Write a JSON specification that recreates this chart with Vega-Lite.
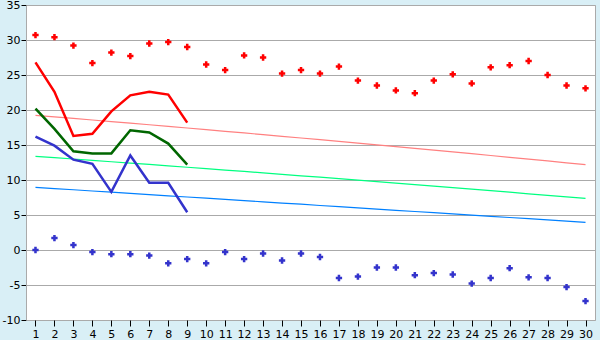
{
  "$schema": "https://vega.github.io/schema/vega-lite/v6.json",
  "width": 569,
  "height": 315,
  "autosize": {"type": "none"},
  "padding": {"left": 26, "top": 5, "right": 5, "bottom": 20},
  "background": "#d9eff6",
  "config": {
    "view": {"fill": "#ffffff", "stroke": "#aaaaaa", "strokeWidth": 1},
    "axis": {"labelFont": "DejaVu Sans", "labelFontSize": 11, "labelColor": "#000000", "tickColor": "#000000", "domainColor": "#aaaaaa", "gridColor": "#aaaaaa", "gridOpacity": 1, "title": null}
  },
  "datasets": {
    "pts": [
      {"day": 1, "series": "Max", "value": 30.7}, {"day": 2, "series": "Max", "value": 30.4}, {"day": 3, "series": "Max", "value": 29.2}, {"day": 4, "series": "Max", "value": 26.7}, {"day": 5, "series": "Max", "value": 28.2}, {"day": 6, "series": "Max", "value": 27.7}, {"day": 7, "series": "Max", "value": 29.5}, {"day": 8, "series": "Max", "value": 29.7}, {"day": 9, "series": "Max", "value": 29.0}, {"day": 10, "series": "Max", "value": 26.5},
      {"day": 11, "series": "Max", "value": 25.7}, {"day": 12, "series": "Max", "value": 27.8}, {"day": 13, "series": "Max", "value": 27.5}, {"day": 14, "series": "Max", "value": 25.2}, {"day": 15, "series": "Max", "value": 25.7}, {"day": 16, "series": "Max", "value": 25.2}, {"day": 17, "series": "Max", "value": 26.2}, {"day": 18, "series": "Max", "value": 24.2}, {"day": 19, "series": "Max", "value": 23.5}, {"day": 20, "series": "Max", "value": 22.8},
      {"day": 21, "series": "Max", "value": 22.4}, {"day": 22, "series": "Max", "value": 24.2}, {"day": 23, "series": "Max", "value": 25.1}, {"day": 24, "series": "Max", "value": 23.8}, {"day": 25, "series": "Max", "value": 26.1}, {"day": 26, "series": "Max", "value": 26.4}, {"day": 27, "series": "Max", "value": 27.0}, {"day": 28, "series": "Max", "value": 25.0}, {"day": 29, "series": "Max", "value": 23.5}, {"day": 30, "series": "Max", "value": 23.1},
      {"day": 1, "series": "Min", "value": 0.0}, {"day": 2, "series": "Min", "value": 1.7}, {"day": 3, "series": "Min", "value": 0.7}, {"day": 4, "series": "Min", "value": -0.3}, {"day": 5, "series": "Min", "value": -0.6}, {"day": 6, "series": "Min", "value": -0.6}, {"day": 7, "series": "Min", "value": -0.8}, {"day": 8, "series": "Min", "value": -1.9}, {"day": 9, "series": "Min", "value": -1.3}, {"day": 10, "series": "Min", "value": -1.9},
      {"day": 11, "series": "Min", "value": -0.3}, {"day": 12, "series": "Min", "value": -1.3}, {"day": 13, "series": "Min", "value": -0.5}, {"day": 14, "series": "Min", "value": -1.5}, {"day": 15, "series": "Min", "value": -0.5}, {"day": 16, "series": "Min", "value": -1.0}, {"day": 17, "series": "Min", "value": -4.0}, {"day": 18, "series": "Min", "value": -3.8}, {"day": 19, "series": "Min", "value": -2.5}, {"day": 20, "series": "Min", "value": -2.5},
      {"day": 21, "series": "Min", "value": -3.6}, {"day": 22, "series": "Min", "value": -3.3}, {"day": 23, "series": "Min", "value": -3.5}, {"day": 24, "series": "Min", "value": -4.8}, {"day": 25, "series": "Min", "value": -4.0}, {"day": 26, "series": "Min", "value": -2.6}, {"day": 27, "series": "Min", "value": -3.9}, {"day": 28, "series": "Min", "value": -4.0}, {"day": 29, "series": "Min", "value": -5.3}, {"day": 30, "series": "Min", "value": -7.3}
    ],
    "lines": [
      {"day": 1, "series": "Tmax", "value": 26.8}, {"day": 2, "series": "Tmax", "value": 22.6}, {"day": 3, "series": "Tmax", "value": 16.3}, {"day": 4, "series": "Tmax", "value": 16.6}, {"day": 5, "series": "Tmax", "value": 19.8}, {"day": 6, "series": "Tmax", "value": 22.1}, {"day": 7, "series": "Tmax", "value": 22.6}, {"day": 8, "series": "Tmax", "value": 22.2}, {"day": 9, "series": "Tmax", "value": 18.2},
      {"day": 1, "series": "Tavg", "value": 20.2}, {"day": 2, "series": "Tavg", "value": 17.3}, {"day": 3, "series": "Tavg", "value": 14.1}, {"day": 4, "series": "Tavg", "value": 13.8}, {"day": 5, "series": "Tavg", "value": 13.8}, {"day": 6, "series": "Tavg", "value": 17.1}, {"day": 7, "series": "Tavg", "value": 16.8}, {"day": 8, "series": "Tavg", "value": 15.2}, {"day": 9, "series": "Tavg", "value": 12.2},
      {"day": 1, "series": "Tmin", "value": 16.2}, {"day": 2, "series": "Tmin", "value": 14.9}, {"day": 3, "series": "Tmin", "value": 12.9}, {"day": 4, "series": "Tmin", "value": 12.3}, {"day": 5, "series": "Tmin", "value": 8.3}, {"day": 6, "series": "Tmin", "value": 13.5}, {"day": 7, "series": "Tmin", "value": 9.6}, {"day": 8, "series": "Tmin", "value": 9.6}, {"day": 9, "series": "Tmin", "value": 5.4}
    ],
    "trend": [
      {"day": 1, "series": "NormMax", "value": 19.24}, {"day": 2, "series": "NormMax", "value": 19.02}, {"day": 3, "series": "NormMax", "value": 18.8}, {"day": 4, "series": "NormMax", "value": 18.57}, {"day": 5, "series": "NormMax", "value": 18.35}, {"day": 6, "series": "NormMax", "value": 18.12}, {"day": 7, "series": "NormMax", "value": 17.89}, {"day": 8, "series": "NormMax", "value": 17.66}, {"day": 9, "series": "NormMax", "value": 17.43}, {"day": 10, "series": "NormMax", "value": 17.2},
      {"day": 11, "series": "NormMax", "value": 16.96}, {"day": 12, "series": "NormMax", "value": 16.72}, {"day": 13, "series": "NormMax", "value": 16.48}, {"day": 14, "series": "NormMax", "value": 16.24}, {"day": 15, "series": "NormMax", "value": 16.0}, {"day": 16, "series": "NormMax", "value": 15.76}, {"day": 17, "series": "NormMax", "value": 15.52}, {"day": 18, "series": "NormMax", "value": 15.27}, {"day": 19, "series": "NormMax", "value": 15.02}, {"day": 20, "series": "NormMax", "value": 14.77},
      {"day": 21, "series": "NormMax", "value": 14.52}, {"day": 22, "series": "NormMax", "value": 14.27}, {"day": 23, "series": "NormMax", "value": 14.01}, {"day": 24, "series": "NormMax", "value": 13.76}, {"day": 25, "series": "NormMax", "value": 13.5}, {"day": 26, "series": "NormMax", "value": 13.24}, {"day": 27, "series": "NormMax", "value": 12.98}, {"day": 28, "series": "NormMax", "value": 12.72}, {"day": 29, "series": "NormMax", "value": 12.45}, {"day": 30, "series": "NormMax", "value": 12.19},
      {"day": 1, "series": "NormAvg", "value": 13.38}, {"day": 2, "series": "NormAvg", "value": 13.19}, {"day": 3, "series": "NormAvg", "value": 13.0}, {"day": 4, "series": "NormAvg", "value": 12.8}, {"day": 5, "series": "NormAvg", "value": 12.61}, {"day": 6, "series": "NormAvg", "value": 12.42}, {"day": 7, "series": "NormAvg", "value": 12.22}, {"day": 8, "series": "NormAvg", "value": 12.02}, {"day": 9, "series": "NormAvg", "value": 11.82}, {"day": 10, "series": "NormAvg", "value": 11.62},
      {"day": 11, "series": "NormAvg", "value": 11.42}, {"day": 12, "series": "NormAvg", "value": 11.22}, {"day": 13, "series": "NormAvg", "value": 11.01}, {"day": 14, "series": "NormAvg", "value": 10.81}, {"day": 15, "series": "NormAvg", "value": 10.6}, {"day": 16, "series": "NormAvg", "value": 10.4}, {"day": 17, "series": "NormAvg", "value": 10.19}, {"day": 18, "series": "NormAvg", "value": 9.98}, {"day": 19, "series": "NormAvg", "value": 9.77}, {"day": 20, "series": "NormAvg", "value": 9.55},
      {"day": 21, "series": "NormAvg", "value": 9.34}, {"day": 22, "series": "NormAvg", "value": 9.13}, {"day": 23, "series": "NormAvg", "value": 8.91}, {"day": 24, "series": "NormAvg", "value": 8.69}, {"day": 25, "series": "NormAvg", "value": 8.47}, {"day": 26, "series": "NormAvg", "value": 8.26}, {"day": 27, "series": "NormAvg", "value": 8.03}, {"day": 28, "series": "NormAvg", "value": 7.81}, {"day": 29, "series": "NormAvg", "value": 7.59}, {"day": 30, "series": "NormAvg", "value": 7.37},
      {"day": 1, "series": "NormMin", "value": 8.95}, {"day": 2, "series": "NormMin", "value": 8.78}, {"day": 3, "series": "NormMin", "value": 8.61}, {"day": 4, "series": "NormMin", "value": 8.43}, {"day": 5, "series": "NormMin", "value": 8.26}, {"day": 6, "series": "NormMin", "value": 8.09}, {"day": 7, "series": "NormMin", "value": 7.92}, {"day": 8, "series": "NormMin", "value": 7.74}, {"day": 9, "series": "NormMin", "value": 7.57}, {"day": 10, "series": "NormMin", "value": 7.4},
      {"day": 11, "series": "NormMin", "value": 7.23}, {"day": 12, "series": "NormMin", "value": 7.05}, {"day": 13, "series": "NormMin", "value": 6.88}, {"day": 14, "series": "NormMin", "value": 6.71}, {"day": 15, "series": "NormMin", "value": 6.54}, {"day": 16, "series": "NormMin", "value": 6.36}, {"day": 17, "series": "NormMin", "value": 6.19}, {"day": 18, "series": "NormMin", "value": 6.02}, {"day": 19, "series": "NormMin", "value": 5.85}, {"day": 20, "series": "NormMin", "value": 5.67},
      {"day": 21, "series": "NormMin", "value": 5.5}, {"day": 22, "series": "NormMin", "value": 5.33}, {"day": 23, "series": "NormMin", "value": 5.16}, {"day": 24, "series": "NormMin", "value": 4.98}, {"day": 25, "series": "NormMin", "value": 4.81}, {"day": 26, "series": "NormMin", "value": 4.64}, {"day": 27, "series": "NormMin", "value": 4.47}, {"day": 28, "series": "NormMin", "value": 4.3}, {"day": 29, "series": "NormMin", "value": 4.12}, {"day": 30, "series": "NormMin", "value": 3.95}
    ]
  },
  "encoding": {
    "x": {"field": "day", "type": "quantitative", "scale": {"domain": [0.5, 30.5], "nice": false, "zero": false},
      "axis": {"values": [1,2,3,4,5,6,7,8,9,10,11,12,13,14,15,16,17,18,19,20,21,22,23,24,25,26,27,28,29,30], "grid": false, "tickSize": 6, "labelPadding": 2, "domain": false, "labelFlush": false, "labelOverlap": false}},
    "y": {"field": "value", "type": "quantitative", "scale": {"domain": [-10, 35], "nice": false, "zero": false},
      "axis": {"values": [-10,-5,0,5,10,15,20,25,30,35], "grid": true, "tickSize": 5, "labelPadding": 1, "domain": true, "labelFlush": false, "labelExpr": "replace(datum.label, '−', '-')"}},
    "color": {"field": "series", "type": "nominal", "legend": null,
      "scale": {"domain": ["Max", "Min", "Tmax", "Tavg", "Tmin", "NormMax", "NormAvg", "NormMin"],
        "range": ["#ff0000", "#3333cc", "#ff0000", "#006600", "#3333cc", "#ff8080", "#00ff80", "#0080ff"]}}
  },
  "layer": [
    {"data": {"name": "trend"}, "mark": {"type": "line", "strokeWidth": 1.2}},
    {"data": {"name": "lines"}, "mark": {"type": "line", "strokeWidth": 2.5}},
    {"data": {"name": "pts"}, "mark": {"type": "point", "shape": "cross", "filled": true, "size": 40, "opacity": 1}}
  ]
}
